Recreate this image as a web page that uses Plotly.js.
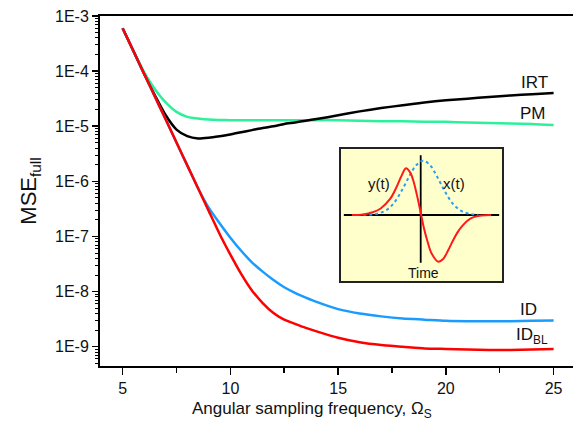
<!DOCTYPE html>
<html>
<head>
<meta charset="utf-8">
<script src="https://cdn.plot.ly/plotly-3.0.1.min.js"></script>
<style>html,body{margin:0;padding:0;background:#fff;}#chart{width:573px;height:423px;}</style>
</head>
<body>
<div id="chart"></div>
<script>
// Angular sampling frequency (x)
const omega = [5,5.5,6,6.5,7,7.5,8,8.5,9,9.5,10,10.5,11,11.5,12,12.5,13,13.5,14,15,16,17,18,19,20,21,22,23,24,25];
// MSE_full per method
const mseIRT  = [6.0e-4,2.32e-4,8.9e-5,3.63e-5,1.58e-5,8.7e-6,6.6e-6,6.0e-6,6.2e-6,6.6e-6,7.1e-6,7.8e-6,8.5e-6,9.3e-6,1.0e-5,1.1e-5,1.17e-5,1.26e-5,1.35e-5,1.58e-5,1.86e-5,2.14e-5,2.4e-5,2.7e-5,2.95e-5,3.16e-5,3.4e-5,3.63e-5,3.8e-5,4.0e-5];
const msePM   = [6.0e-4,2.34e-4,9.5e-5,4.7e-5,2.7e-5,1.82e-5,1.48e-5,1.38e-5,1.32e-5,1.3e-5,1.29e-5,1.29e-5,1.29e-5,1.29e-5,1.29e-5,1.29e-5,1.29e-5,1.29e-5,1.29e-5,1.29e-5,1.26e-5,1.23e-5,1.23e-5,1.2e-5,1.2e-5,1.17e-5,1.15e-5,1.12e-5,1.1e-5,1.05e-5];
const mseID   = [6.0e-4,2.32e-4,8.9e-5,3.43e-5,1.32e-5,5.07e-6,1.95e-6,7.5e-7,3.3e-7,1.74e-7,9.5e-8,5.5e-8,3.4e-8,2.3e-8,1.62e-8,1.2e-8,9.5e-9,7.8e-9,6.5e-9,4.8e-9,4.0e-9,3.55e-9,3.25e-9,3.1e-9,2.95e-9,2.9e-9,2.9e-9,2.9e-9,2.95e-9,3.0e-9];
const mseIDBL = [6.0e-4,2.32e-4,8.9e-5,3.43e-5,1.32e-5,5.07e-6,1.95e-6,7.5e-7,2.88e-7,1.11e-7,4.7e-8,2.1e-8,1.05e-8,6.2e-9,4.1e-9,3.1e-9,2.6e-9,2.2e-9,1.9e-9,1.45e-9,1.2e-9,1.07e-9,1.0e-9,9.3e-10,9.1e-10,8.9e-10,8.7e-10,8.7e-10,8.9e-10,9.1e-10];
// y tick labels
const yTickVals = [1e-9,1e-8,1e-7,1e-6,1e-5,1e-4,1e-3];
const yTickText = ['1E-9','1E-8','1E-7','1E-6','1E-5','1E-4','1E-3'];
// inset: x(t) and y(t) sketches (time, amplitude)
const insetTx = [-3.6,-2.8,-2.2,-1.7,-1.2,-0.7,-0.3,0.15,0.6,1.0,1.5,2.0,2.5,3.0,3.6];
const insetX  = [0.002,0.019,0.08,0.21,0.44,0.72,0.91,1.0,0.91,0.72,0.44,0.21,0.08,0.025,0.002];
const insetTy = [-4.3,-3.6,-3.0,-2.5,-1.9,-1.5,-1.2,-0.92,-0.65,-0.45,-0.2,0,0.2,0.4,0.7,1.1,1.4,1.7,2.0,2.3,2.6,2.9,3.3,3.8,4.4];
const insetY  = [0,0.01,0.05,0.12,0.3,0.52,0.72,0.86,0.78,0.62,0.32,0.04,-0.24,-0.46,-0.72,-0.86,-0.81,-0.66,-0.48,-0.32,-0.2,-0.11,-0.04,-0.01,0];

const FONT = 'Liberation Sans, Arial, sans-serif';
const ln = (c) => ({color: c, width: 2.5, shape: 'spline', smoothing: 0.6});
const traces = [
  // empty helper trace so the minor-tick axis is drawn
  {x: [], y: [], yaxis: 'y3', mode: 'lines', hoverinfo: 'skip', showlegend: false},
  {x: omega, y: msePM, mode: 'lines', line: ln('#2cf09a'), name: 'PM'},
  {x: omega, y: mseIRT, mode: 'lines', line: ln('#000000'), name: 'IRT'},
  {x: omega, y: mseID, mode: 'lines', line: ln('#1a9cff'), name: 'ID'},
  {x: omega, y: mseIDBL, mode: 'lines', line: ln('#ff0000'), name: 'ID_BL'},
  {x: insetTx, y: insetX, xaxis: 'x2', yaxis: 'y2', mode: 'lines',
   line: {color: '#2a9df4', width: 2, dash: 'dot', shape: 'spline'}, name: 'x(t)'},
  {x: insetTy, y: insetY, xaxis: 'x2', yaxis: 'y2', mode: 'lines',
   line: {color: '#ff1a1a', width: 2, shape: 'spline'}, name: 'y(t)'}
];

const layout = {
  width: 573, height: 423,
  margin: {l: 100, r: 0, t: 16, b: 57},
  paper_bgcolor: '#ffffff', plot_bgcolor: 'rgba(0,0,0,0)',
  showlegend: false,
  font: {family: FONT, color: '#111', size: 16},
  xaxis: {
    range: [3.95, 25.9], tick0: 5, dtick: 5,
    ticks: 'outside', ticklen: 7, tickwidth: 1.5, tickcolor: '#000',
    minor: {dtick: 2.5, tick0: 5, ticks: 'outside', ticklen: 5, tickwidth: 1.5, tickcolor: '#000', showgrid: false},
    showline: true, linecolor: '#000', linewidth: 2, mirror: true,
    showgrid: false, zeroline: false,
    tickfont: {size: 16, family: FONT, color: '#111'}
  },
  yaxis: {
    type: 'log', range: [-9.35, -3],
    tickmode: 'array', tickvals: yTickVals, ticktext: yTickText,
    ticks: 'outside', ticklen: 6, tickwidth: 1.5, tickcolor: '#000',
    showline: true, linecolor: '#000', linewidth: 2,
    showgrid: false, zeroline: false,
    tickfont: {size: 16, family: FONT, color: '#111'},
    title: {text: 'MSE<sub>full</sub>', font: {size: 22, family: FONT, color: '#111'}, standoff: 12}
  },
  yaxis3: {
    type: 'log', range: [-9.35, -3], overlaying: 'y', side: 'left', anchor: 'x',
    dtick: 'D1', ticks: 'outside', ticklen: 4, tickwidth: 1, tickcolor: '#000',
    showticklabels: false, showline: false, showgrid: false, zeroline: false, fixedrange: true
  },
  xaxis2: {domain: [0.5074, 0.852], anchor: 'y2', range: [-5.04, 5.14], visible: false, fixedrange: true},
  yaxis2: {domain: [0.24, 0.623], anchor: 'x2', range: [-1.234, 1.234], visible: false, fixedrange: true},
  shapes: [
    {type: 'rect', xref: 'x2 domain', yref: 'y2 domain', x0: 0, x1: 1, y0: 0, y1: 1,
     fillcolor: '#ffffcc', line: {color: '#222', width: 2}, layer: 'below'},
    {type: 'line', xref: 'x2', yref: 'y2', x0: -4.8, x1: 4.9, y0: 0, y1: 0,
     line: {color: '#000', width: 1.8}, layer: 'below'},
    {type: 'line', xref: 'x2', yref: 'y2', x0: 0, x1: 0, y0: 1.1, y1: -0.88,
     line: {color: '#000', width: 1.8}, layer: 'below'}
  ],
  annotations: [
    {xref: 'paper', yref: 'paper', x: (312 - 100) / 473, y: -0.125, xanchor: 'center', yanchor: 'middle',
     text: 'Angular sampling frequency, Ω<sub>S</sub>', showarrow: false, font: {size: 17, family: FONT, color: '#111'}},
    {xref: 'x', yref: 'y', x: 24.84, y: -4.20, xanchor: 'right', yanchor: 'middle', text: 'IRT', showarrow: false, font: {size: 17, family: FONT, color: '#111'}},
    {xref: 'x', yref: 'y', x: 24.76, y: -4.77, xanchor: 'right', yanchor: 'middle', text: 'PM', showarrow: false, font: {size: 17, family: FONT, color: '#111'}},
    {xref: 'x', yref: 'y', x: 24.3, y: -8.33, xanchor: 'right', yanchor: 'middle', text: 'ID', showarrow: false, font: {size: 17, family: FONT, color: '#111'}},
    {xref: 'x', yref: 'y', x: 24.84, y: -8.81, xanchor: 'right', yanchor: 'middle', text: 'ID<sub>BL</sub>', showarrow: false, font: {size: 17, family: FONT, color: '#111'}},
    {xref: 'x2', yref: 'y2', x: -2.6, y: 0.58, xanchor: 'center', yanchor: 'middle', text: 'y(t)', showarrow: false, font: {size: 15, family: FONT, color: '#111'}},
    {xref: 'x2', yref: 'y2', x: 2.1, y: 0.58, xanchor: 'center', yanchor: 'middle', text: 'x(t)', showarrow: false, font: {size: 15, family: FONT, color: '#111'}},
    {xref: 'x2', yref: 'y2', x: 0.15, y: -1.07, xanchor: 'center', yanchor: 'middle', text: 'Time', showarrow: false, font: {size: 14, family: FONT, color: '#111'}}
  ]
};

Plotly.newPlot('chart', traces, layout, {staticPlot: true, displayModeBar: false});
</script>
</body>
</html>
